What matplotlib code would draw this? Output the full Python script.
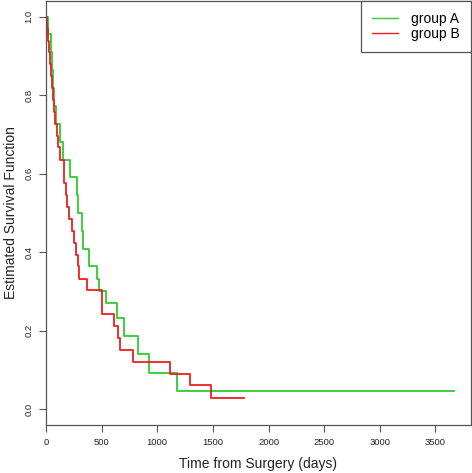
import matplotlib
matplotlib.use("Agg")
import matplotlib.pyplot as plt

# Kaplan-Meier step values (days, survival)
time_a = [0, 22, 43, 55, 65, 75, 88, 128, 149, 220, 277, 290, 323, 335, 385,
          457, 475, 535, 637, 697, 826, 922, 1177, 3668]
surv_a = [1.0, 0.955, 0.909, 0.864, 0.818, 0.773, 0.727, 0.682, 0.636, 0.591,
          0.545, 0.500, 0.455, 0.409, 0.364, 0.331, 0.301, 0.271, 0.232, 0.187,
          0.140, 0.093, 0.047, 0.047]

time_b = [0, 8, 18, 25, 32, 42, 52, 60, 68, 80, 98, 105, 128, 160, 166, 180,
          187, 211, 235, 256, 271, 292, 301, 367, 506, 611, 647, 668, 782,
          1118, 1291, 1480, 1777]
surv_b = [1.0, 0.970, 0.939, 0.909, 0.879, 0.848, 0.818, 0.788, 0.758, 0.727,
          0.697, 0.667, 0.636, 0.606, 0.576, 0.545, 0.515, 0.485, 0.455, 0.424,
          0.394, 0.364, 0.333, 0.303, 0.242, 0.212, 0.182, 0.152, 0.121, 0.091,
          0.061, 0.030, 0.030]

labels = ["group A", "group B"]
colors = ["#2ecc2e", "#ee1f1f"]

plt.rcParams["font.family"] = ["Liberation Sans", "DejaVu Sans"]
axis_col = "#555555"

fig = plt.figure(figsize=(4.72, 4.73), dpi=100)
ax = fig.add_axes([46 / 472, 48 / 473, (470.5 - 46) / 472, (472 - 48) / 473])

ax.step(time_a, surv_a, where="post", color=colors[0], lw=1.3, label=labels[0])
ax.step(time_b, surv_b, where="post", color=colors[1], lw=1.3, label=labels[1])

xmax = max(time_a[-1], time_b[-1]) * 1.04
ax.set_xlim(0, xmax)
ax.set_ylim(-0.04, 1.04)

ax.set_xticks([0, 500, 1000, 1500, 2000, 2500, 3000, 3500])
ax.set_yticks([0.0, 0.2, 0.4, 0.6, 0.8, 1.0])
ax.set_yticklabels(["0.0", "0.2", "0.4", "0.6", "0.8", "1.0"], rotation=90, va="center")
ax.tick_params(axis="both", direction="out", length=5, width=0.8, colors=axis_col,
               labelcolor="#222222", labelsize=6.8, pad=4)

for s in ax.spines.values():
    s.set_color(axis_col)
    s.set_linewidth(0.9)

ax.set_xlabel("Time from Surgery (days)", fontsize=10, color="#222222", labelpad=7.5)
ax.set_ylabel("Estimated Survival Function", fontsize=10, color="#222222", labelpad=5)

leg = ax.legend(loc="upper right", borderaxespad=0, fancybox=False, framealpha=1,
                edgecolor=axis_col, fontsize=10, handlelength=1.9, handletextpad=0.9,
                borderpad=0.8, labelspacing=0.05)
leg.get_frame().set_linewidth(0.9)
for line in leg.get_lines():
    line.set_linewidth(1.0)

fig.savefig("out.png", dpi=100)
